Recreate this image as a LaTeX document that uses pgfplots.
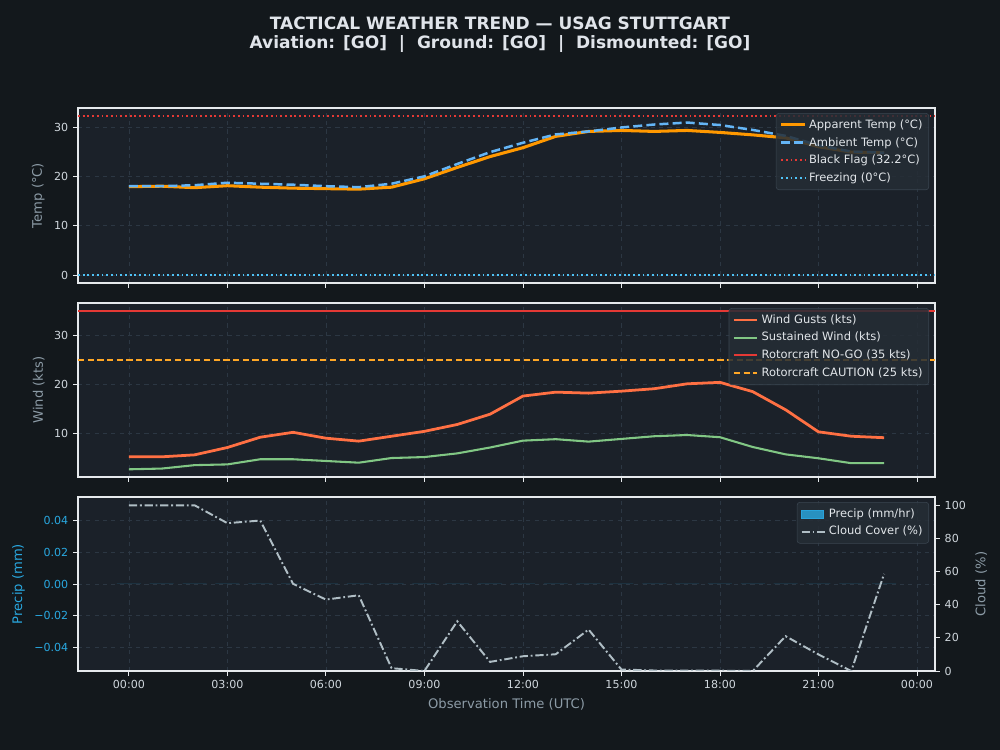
\documentclass[border=0pt]{standalone}
\usepackage{fontspec}
\setmainfont{DejaVu Sans}
\usepackage{pgfplots}
\pgfplotsset{compat=1.18}
\usepackage{pgfplotstable}

\definecolor{figbg}{HTML}{13181C}
\definecolor{axbg}{HTML}{1B2129}
\definecolor{spine}{HTML}{E6E9EC}
\definecolor{gridc}{HTML}{2C3743}
\definecolor{ticklab}{HTML}{CFD6DC}
\definecolor{labc}{HTML}{8C9BA6}
\definecolor{legbg}{HTML}{252D35}
\definecolor{legdraw}{HTML}{3A4550}
\definecolor{legtext}{HTML}{E2E6EA}
\definecolor{titlec}{HTML}{E0E4EA}
\definecolor{appc}{HTML}{FF9800}
\definecolor{ambc}{HTML}{64B5F6}
\definecolor{redc}{HTML}{E53935}
\definecolor{frzc}{HTML}{4FC3F7}
\definecolor{gustc}{HTML}{FF7043}
\definecolor{sustc}{HTML}{81C784}
\definecolor{cautc}{HTML}{FFA726}
\definecolor{precipc}{HTML}{29A3DB}
\definecolor{cloudc}{HTML}{B0BEC5}
\definecolor{preciplab}{HTML}{29A8E0}

\pgfplotstableread{
h app amb gust sust cloud precip
0 17.9 18.0 5.2 2.65 100 0
1 18.0 18.0 5.2 2.8 100 0
2 17.7 18.2 5.6 3.5 100 0
3 18.1 18.7 7.1 3.65 89.2 0
4 17.8 18.5 9.2 4.7 90.8 0
5 17.6 18.3 10.2 4.7 52.6 0
6 17.5 18.0 9.0 4.35 43.1 0
7 17.4 17.8 8.4 4.0 45.7 0
8 17.8 18.5 9.4 4.95 1.7 0
9 19.5 20.0 10.4 5.15 0 0
10 21.8 22.5 11.8 5.9 30 0
11 24.0 24.9 13.9 7.1 5.5 0
12 25.8 26.8 17.6 8.5 8.9 0
13 28.1 28.5 18.4 8.8 10.1 0
14 29.1 29.1 18.2 8.3 25 0
15 29.3 29.9 18.6 8.85 0.9 0
16 29.1 30.5 19.1 9.4 0.3 0
17 29.3 30.9 20.1 9.65 0.2 0
18 28.9 30.4 20.4 9.2 0.2 0
19 28.4 29.4 18.5 7.2 0 0
20 27.8 28.2 14.8 5.7 21 0
21 26.0 26.3 10.3 4.9 10 0
22 24.9 25.0 9.4 3.9 0 0
23 24.8 24.8 9.1 3.9 58.6 0
}\wx

\pgfplotsset{
  panel/.style={
    width=8.57in, height=1.74in, scale only axis,
    xmin=-1.55, xmax=24.55,
    xtick={0,3,...,24},
    axis background/.style={fill=axbg},
    axis line style={draw=spine, line width=0.8pt},
    tick style={draw=spine, line width=0.6pt},
    tick align=outside, major tick length=3.5pt,
    xtick pos=lower, ytick pos=left,
    grid=major, major grid style={dashed, draw=gridc, line width=0.5pt},
    ticklabel style={font=\fontsize{8}{9}\selectfont, text=ticklab},
    label style={font=\fontsize{9.5}{11}\selectfont, text=labc},
    /pgf/number format/assume math mode=true,
    scaled y ticks=false,
    legend cell align=left,
    legend style={at={(0.993,0.971)}, anchor=north east, fill=legbg,
      fill opacity=0.85, text opacity=1, draw=legdraw, rounded corners=2pt,
      font=\fontsize{8.3}{10}\selectfont, text=legtext, inner sep=2.5pt,
      row sep=1pt},
  }
}

\begin{document}
\begin{tikzpicture}[x=1in,y=1in]
\fill[figbg] (0,0) rectangle (10,7.5);
\useasboundingbox (0,0) rectangle (10,7.5);
\node[font=\fontsize{12.3}{14}\selectfont\bfseries, text=titlec] at (5,7.5-0.23) {TACTICAL WEATHER TREND — USAG STUTTGART};
\node[font=\fontsize{12.3}{14}\selectfont\bfseries, text=titlec] at (5,7.5-0.445) {Aviation: [GO]\ \ |\ \ Ground: [GO]\ \ |\ \ Dismounted: [GO]};

% Top panel
\begin{axis}[panel, at={(0.78in,4.67in)}, anchor=south west,
  height=1.75in,
  ymin=-1.62, ymax=33.85, ytick={0,10,20,30}, xticklabels={},
  ylabel={Temp (°C)}]
\addplot[appc, line width=2.2pt] table[x=h,y=app]{\wx};
\addlegendentry{Apparent Temp (°C)}
\addplot[ambc, line width=1.8pt, dash pattern=on 6.5pt off 3pt] table[x=h,y=amb]{\wx};
\addlegendentry{Ambient Temp (°C)}
\addplot[redc, line width=1.3pt, dash pattern=on 1.3pt off 2.1pt] coordinates {(-1.55,32.2) (24.55,32.2)};
\addlegendentry{Black Flag (32.2°C)}
\addplot[frzc, line width=1.3pt, dash pattern=on 1.3pt off 2.1pt] coordinates {(-1.55,0) (24.55,0)};
\addlegendentry{Freezing (0°C)}
\end{axis}

% Middle panel
\begin{axis}[panel, at={(0.78in,2.73in)}, anchor=south west,
  ymin=1.08, ymax=36.6, ytick={10,20,30}, xticklabels={},
  ylabel={Wind (kts)}]
\addplot[gustc, line width=2pt] table[x=h,y=gust]{\wx};
\addlegendentry{Wind Gusts (kts)}
\addplot[sustc, line width=1.5pt] table[x=h,y=sust]{\wx};
\addlegendentry{Sustained Wind (kts)}
\addplot[redc, line width=1.5pt] coordinates {(-1.55,35) (24.55,35)};
\addlegendentry{Rotorcraft NO-GO (35 kts)}
\addplot[cautc, line width=1.3pt, dash pattern=on 4.5pt off 2.5pt] coordinates {(-1.55,25) (24.55,25)};
\addlegendentry{Rotorcraft CAUTION (25 kts)}
\end{axis}

% Bottom panel
\begin{axis}[panel, at={(0.78in,0.79in)}, anchor=south west,
  ymin=-0.055, ymax=0.055, ytick={-0.04,-0.02,0,0.02,0.04},
  yticklabels={−0.04,−0.02,0.00,0.02,0.04},
  yticklabel style={text=preciplab},
  xticklabels={00:00,03:00,06:00,09:00,12:00,15:00,18:00,21:00,00:00},
  ylabel={Precip (mm)}, ylabel style={text=preciplab},
  xlabel={Observation Time (UTC)}]
\addplot[ybar, bar width=0.73, fill=precipc, draw=none] table[x=h,y=precip]{\wx};
\end{axis}
\begin{axis}[panel, at={(0.78in,0.79in)}, anchor=south west,
  axis background/.style={}, grid=none,
  axis x line=none, axis y line*=right, ytick pos=right,
  ymin=0, ymax=105, ytick={0,20,...,100},
  ylabel={Cloud (\%)}]
\addlegendimage{legend image code/.code={\fill[precipc, sharp corners] (0cm,-0.1cm) rectangle (0.56cm,0.1cm);}}
\addlegendentry{Precip (mm/hr)}
\addplot[cloudc, line width=1.4pt, dash pattern=on 6pt off 2pt on 1.3pt off 2pt] table[x=h,y=cloud]{\wx};
\addlegendentry{Cloud Cover (\%)}
\end{axis}
\end{tikzpicture}
\end{document}
